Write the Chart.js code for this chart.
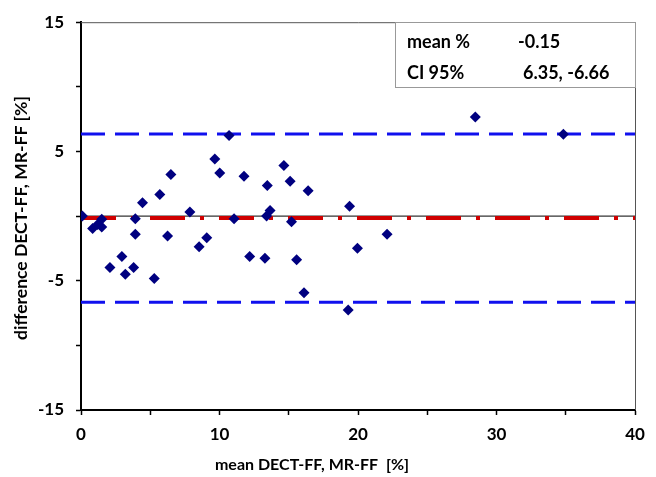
<!DOCTYPE html>
<html>
<head>
<meta charset="utf-8">
<script src="https://cdn.jsdelivr.net/npm/chart.js@4.4.0/dist/chart.umd.min.js"></script>
<style>
html,body{margin:0;padding:0;background:#fff;}
#wrap{width:656px;height:477px;position:relative;}
</style>
</head>
<body>
<div id="wrap"><canvas id="c" width="656" height="477"></canvas></div>
<script>
// Bland-Altman data: mean (x) and difference (y), in %
const meanValues = [0.1, 0.84, 1.2, 1.5, 1.5, 2.09, 2.95, 3.2, 3.8, 3.92, 3.92, 4.44, 5.29, 5.69, 6.25, 6.49, 7.86, 8.53, 9.08, 9.66, 10.02, 10.69, 11.05, 11.77, 12.18, 13.28, 13.4, 13.45, 13.65, 14.65, 15.1, 15.2, 15.57, 16.1, 16.4, 19.39, 19.29, 19.96, 22.1, 28.47, 34.83];
const diffValues = [0.0, -0.95, -0.65, -0.85, -0.25, -3.97, -3.13, -4.49, -3.97, -1.41, -0.2, 1.03, -4.82, 1.67, -1.54, 3.21, 0.31, -2.38, -1.67, 4.41, 3.33, 6.23, -0.2, 3.08, -3.13, -3.26, 0.0, 2.36, 0.44, 3.92, 2.69, -0.44, -3.38, -5.92, 1.97, 0.77, -7.26, -2.49, -1.41, 7.67, 6.33];
const meanDiff = -0.15;
const upperLimit = 6.35;
const lowerLimit = -6.66;
const xRange = [0, 40];
const yRange = [-15, 15];
const xLabeledTicks = [0, 10, 20, 30, 40];
const yLabeledTicks = [-15, -5, 5, 15];
const statsLabels = ["mean %", "CI 95%"];
const statsValues = ["-0.15", "6.35, -6.66"];
const xTitle = "mean DECT-FF, MR-FF  [%]";
const yTitle = "difference DECT-FF, MR-FF [%]";

const FONT = "Lato, 'Open Sans', sans-serif";

const points = meanValues.map((m, i) => ({x: m, y: diffValues[i]}));
const hline = v => [{x: xRange[0], y: v}, {x: xRange[1], y: v}];

const overlay = {
  id: 'overlay',
  beforeDatasetsDraw(chart) {
    const ctx = chart.ctx, a = chart.chartArea;
    ctx.save();
    ctx.strokeStyle = '#555';
    ctx.lineWidth = 1;
    ctx.beginPath();
    ctx.moveTo(a.left, a.top + 0.5);
    ctx.lineTo(a.right + 0.5, a.top + 0.5);
    ctx.lineTo(a.right + 0.5, a.bottom);
    ctx.stroke();
    ctx.restore();
  },
  afterDraw(chart) {
    const ctx = chart.ctx;
    ctx.save();
    // stats box
    ctx.fillStyle = '#fff';
    ctx.fillRect(395, 22, 240, 65);
    ctx.strokeStyle = '#999';
    ctx.lineWidth = 1;
    ctx.strokeRect(395.5, 22.5, 240, 65);
    ctx.fillStyle = '#000';
    ctx.font = "bold 18px " + FONT;
    ctx.textBaseline = 'middle';
    ctx.textAlign = 'left';
    ctx.fillText(statsLabels[0], 407, 42);
    ctx.fillText(statsValues[0], 518, 42);
    ctx.fillText(statsLabels[1], 407, 73);
    ctx.fillText(statsValues[1], 523, 73);
    // axis titles
    ctx.font = "bold 16px " + FONT;
    ctx.textAlign = 'center';
    ctx.fillText(xTitle, 312, 465);
    ctx.font = "bold 17.5px " + FONT;
    ctx.translate(21, 218);
    ctx.rotate(-Math.PI / 2);
    ctx.fillText(yTitle, 0, 0);
    ctx.restore();
  }
};

new Chart(document.getElementById('c'), {
  type: 'scatter',
  data: {
    datasets: [
      {
        label: 'points',
        data: points,
        pointStyle: 'rectRot',
        pointRadius: 5.5,
        pointBackgroundColor: '#000080',
        pointBorderColor: '#000080',
        pointBorderWidth: 0,
        showLine: false,
        order: 0
      },
      {
        label: 'mean',
        type: 'line',
        data: hline(meanDiff),
        borderColor: '#d00000',
        borderWidth: 4,
        borderDash: [35, 15, 4, 15],
        pointRadius: 0,
        order: 1
      },
      {
        label: 'zero',
        type: 'line',
        data: hline(0),
        borderColor: '#000',
        borderWidth: 1,
        pointRadius: 0,
        order: 2
      },
      {
        label: 'upper',
        type: 'line',
        data: hline(upperLimit),
        borderColor: '#1010ee',
        borderWidth: 3,
        borderDash: [24, 10],
        pointRadius: 0,
        order: 3
      },
      {
        label: 'lower',
        type: 'line',
        data: hline(lowerLimit),
        borderColor: '#1010ee',
        borderWidth: 3,
        borderDash: [24, 10],
        pointRadius: 0,
        order: 4
      }
    ]
  },
  options: {
    responsive: false,
    animation: false,
    layout: {padding: {top: 20, right: 21, left: 0, bottom: 0}},
    plugins: {legend: {display: false}, tooltip: {enabled: false}},
    scales: {
      x: {
        type: 'linear',
        min: xRange[0], max: xRange[1],
        ticks: {
          stepSize: 5,
          color: '#000',
          font: {family: FONT, size: 17, weight: 'bold'},
          padding: 9,
          maxRotation: 0,
          callback: v => xLabeledTicks.includes(v) ? String(v) : ''
        },
        grid: {drawOnChartArea: false, drawTicks: true, tickLength: 5, color: '#000', tickWidth: 1.5},
        border: {color: '#000', width: 2},
        afterFit: s => { s.height = 67; }
      },
      y: {
        type: 'linear',
        min: yRange[0], max: yRange[1],
        ticks: {
          stepSize: 5,
          color: '#000',
          font: {family: FONT, size: 17, weight: 'bold'},
          padding: 12,
          callback: v => yLabeledTicks.includes(v) ? String(v) : ''
        },
        grid: {drawOnChartArea: false, drawTicks: true, tickLength: 5, color: '#000', tickWidth: 1.5},
        border: {color: '#000', width: 2},
        afterFit: s => { s.width = 81; }
      }
    }
  },
  plugins: [overlay]
});
</script>
</body>
</html>
